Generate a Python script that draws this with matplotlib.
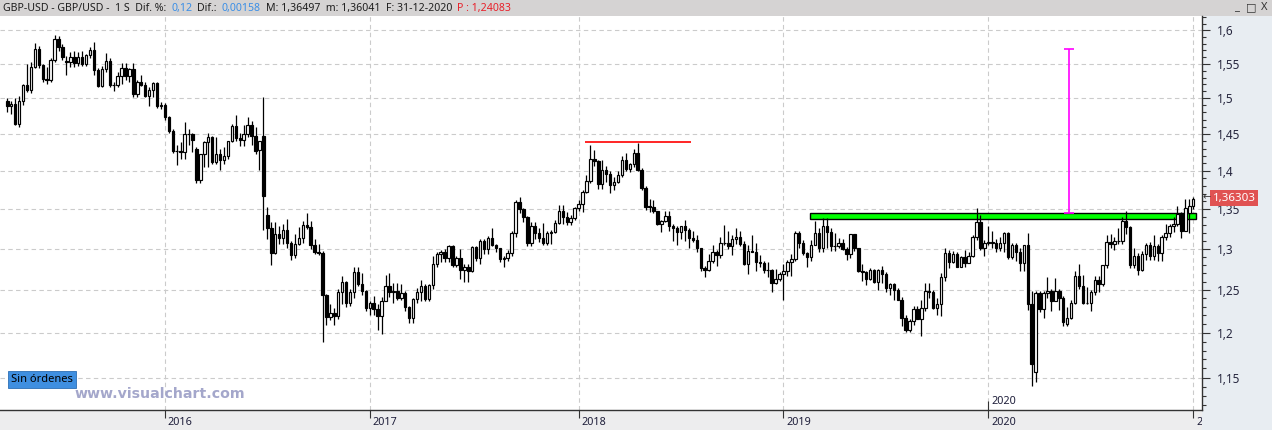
import numpy as np
import pandas as pd
import matplotlib
matplotlib.use('Agg')
import matplotlib.pyplot as plt
import matplotlib.transforms as mtransforms
from matplotlib.patches import Rectangle
from matplotlib.ticker import FixedLocator, NullFormatter, FuncFormatter

plt.rcParams['font.family'] = ['Noto Sans', 'DejaVu Sans']

# GBP/USD velas semanales (open, high, low, close)
first_week = '2015-03-23'

bars_2015 = [
    (1.4960, 1.5005, 1.4810, 1.4885), (1.4885, 1.4960, 1.4780, 1.4920), (1.4920, 1.5000, 1.4620, 1.4640),
    (1.4640, 1.5030, 1.4590, 1.4965), (1.4965, 1.5200, 1.4900, 1.5185), (1.5185, 1.5500, 1.5090, 1.5125),
    (1.5125, 1.5525, 1.5080, 1.5450), (1.5450, 1.5815, 1.5440, 1.5715), (1.5715, 1.5770, 1.5445, 1.5480),
    (1.5480, 1.5500, 1.5240, 1.5285), (1.5285, 1.5450, 1.5200, 1.5270), (1.5270, 1.5585, 1.5240, 1.5560),
    (1.5560, 1.5930, 1.5530, 1.5875), (1.5875, 1.5915, 1.5690, 1.5750), (1.5750, 1.5790, 1.5560, 1.5600),
    (1.5545, 1.5620, 1.5330, 1.5525), (1.5525, 1.5675, 1.5460, 1.5600), (1.5600, 1.5690, 1.5455, 1.5520),
    (1.5520, 1.5670, 1.5475, 1.5605), (1.5605, 1.5690, 1.5470, 1.5495), (1.5495, 1.5650, 1.5465, 1.5635),
    (1.5635, 1.5750, 1.5580, 1.5700), (1.5700, 1.5820, 1.5330, 1.5410), (1.5410, 1.5440, 1.5165, 1.5175),
    (1.5175, 1.5465, 1.5160, 1.5430), (1.5430, 1.5660, 1.5380, 1.5540), (1.5540, 1.5580, 1.5165, 1.5190),
    (1.5190, 1.5240, 1.5105, 1.5185), (1.5185, 1.5385, 1.5160, 1.5320), (1.5320, 1.5510, 1.5200, 1.5440),
    (1.5440, 1.5510, 1.5270, 1.5315), (1.5315, 1.5440, 1.5240, 1.5430), (1.5430, 1.5510, 1.5025, 1.5060),
    (1.5060, 1.5270, 1.5020, 1.5230), (1.5230, 1.5335, 1.5170, 1.5190), (1.5190, 1.5240, 1.5025, 1.5040),
    (1.5040, 1.5160, 1.4895, 1.5120), (1.5120, 1.5240, 1.5025, 1.5215), (1.5215, 1.5240, 1.4865, 1.4890),
    (1.4890, 1.4950, 1.4850, 1.4905), (1.4905, 1.4935, 1.4700, 1.4740),
]

bars_2016 = [
    (1.4740, 1.4750, 1.4515, 1.4535), (1.4535, 1.4575, 1.4235, 1.4265), (1.4265, 1.4350, 1.4080, 1.4260),
    (1.4260, 1.4395, 1.4160, 1.4250), (1.4250, 1.4665, 1.4160, 1.4500), (1.4500, 1.4570, 1.4350, 1.4505),
    (1.4505, 1.4510, 1.4255, 1.4410), (1.4300, 1.4320, 1.3835, 1.3875), (1.3875, 1.4230, 1.3840, 1.4225),
    (1.4225, 1.4400, 1.4055, 1.4390), (1.4390, 1.4515, 1.4050, 1.4460), (1.4460, 1.4470, 1.4085, 1.4120),
    (1.4120, 1.4460, 1.4090, 1.4230), (1.4230, 1.4295, 1.4005, 1.4140), (1.4140, 1.4315, 1.4085, 1.4200),
    (1.4200, 1.4400, 1.4160, 1.4400), (1.4400, 1.4640, 1.4390, 1.4615), (1.4615, 1.4770, 1.4405, 1.4440),
    (1.4440, 1.4515, 1.4330, 1.4410), (1.4410, 1.4630, 1.4330, 1.4495), (1.4495, 1.4735, 1.4455, 1.4630),
    (1.4630, 1.4675, 1.4350, 1.4465), (1.4465, 1.4600, 1.4220, 1.4265), (1.4280, 1.4375, 1.4010, 1.4400),
    (1.4465, 1.5020, 1.3230, 1.3675), (1.3420, 1.3530, 1.3120, 1.3265), (1.3265, 1.3340, 1.2795, 1.2950),
    (1.2950, 1.3340, 1.2935, 1.3180), (1.3180, 1.3285, 1.3060, 1.3130), (1.3130, 1.3310, 1.3060, 1.3230),
    (1.3230, 1.3370, 1.3010, 1.3070), (1.3070, 1.3090, 1.2865, 1.2925), (1.2925, 1.3185, 1.2880, 1.3060),
    (1.3060, 1.3275, 1.3045, 1.3130), (1.3130, 1.3345, 1.3070, 1.3300), (1.3300, 1.3445, 1.3240, 1.3270),
    (1.3270, 1.3350, 1.3000, 1.3040), (1.3040, 1.3120, 1.2940, 1.2960), (1.2960, 1.3055, 1.2925, 1.2950),
    (1.2950, 1.2970, 1.1900, 1.2440), (1.2440, 1.2450, 1.2085, 1.2185), (1.2185, 1.2335, 1.2145, 1.2230),
    (1.2230, 1.2290, 1.2085, 1.2195), (1.2195, 1.2510, 1.2160, 1.2480), (1.2480, 1.2670, 1.2335, 1.2595),
    (1.2595, 1.2605, 1.2300, 1.2340), (1.2340, 1.2510, 1.2305, 1.2475), (1.2475, 1.2775, 1.2410, 1.2720),
    (1.2720, 1.2775, 1.2545, 1.2575), (1.2575, 1.2705, 1.2435, 1.2490), (1.2490, 1.2500, 1.2250, 1.2290),
    (1.2290, 1.2375, 1.2200, 1.2340),
]

bars_2017 = [
    (1.2340, 1.2430, 1.2200, 1.2280), (1.2280, 1.2330, 1.2035, 1.2195), (1.2195, 1.2415, 1.1985, 1.2370),
    (1.2370, 1.2675, 1.2370, 1.2545), (1.2545, 1.2705, 1.2415, 1.2480), (1.2480, 1.2580, 1.2345, 1.2490),
    (1.2490, 1.2580, 1.2385, 1.2410), (1.2410, 1.2570, 1.2380, 1.2465), (1.2465, 1.2490, 1.2250, 1.2295),
    (1.2295, 1.2310, 1.2110, 1.2170), (1.2170, 1.2400, 1.2110, 1.2395), (1.2395, 1.2525, 1.2345, 1.2470),
    (1.2470, 1.2615, 1.2375, 1.2550), (1.2550, 1.2565, 1.2365, 1.2395), (1.2395, 1.2565, 1.2365, 1.2555),
    (1.2555, 1.2905, 1.2515, 1.2810), (1.2810, 1.2965, 1.2770, 1.2940), (1.2940, 1.2990, 1.2840, 1.2965),
    (1.2965, 1.3000, 1.2840, 1.2880), (1.2880, 1.3045, 1.2840, 1.3030), (1.3030, 1.3045, 1.2770, 1.2800),
    (1.2800, 1.2905, 1.2770, 1.2885), (1.2885, 1.3000, 1.2635, 1.2745), (1.2745, 1.2815, 1.2590, 1.2780),
    (1.2780, 1.2815, 1.2590, 1.2725), (1.2725, 1.3030, 1.2710, 1.3025), (1.3025, 1.3030, 1.2850, 1.2885),
    (1.2885, 1.3115, 1.2810, 1.3100), (1.3100, 1.3125, 1.2930, 1.2995), (1.2995, 1.3155, 1.2935, 1.3135),
    (1.3135, 1.3265, 1.3030, 1.3040), (1.3040, 1.3060, 1.2955, 1.3010), (1.3010, 1.3010, 1.2840, 1.2875),
    (1.2875, 1.2915, 1.2775, 1.2880), (1.2880, 1.2980, 1.2850, 1.2950), (1.2950, 1.3225, 1.2915, 1.3200),
    (1.3200, 1.3615, 1.3140, 1.3590), (1.3590, 1.3655, 1.3455, 1.3500), (1.3500, 1.3510, 1.3340, 1.3400),
    (1.3400, 1.3405, 1.3030, 1.3070), (1.3070, 1.3340, 1.3030, 1.3285), (1.3285, 1.3340, 1.3120, 1.3200),
    (1.3200, 1.3260, 1.3080, 1.3130), (1.3130, 1.3320, 1.3040, 1.3065), (1.3065, 1.3225, 1.3040, 1.3190),
    (1.3190, 1.3235, 1.3060, 1.3210), (1.3210, 1.3365, 1.3195, 1.3325), (1.3325, 1.3550, 1.3305, 1.3475),
    (1.3475, 1.3550, 1.3305, 1.3395), (1.3395, 1.3460, 1.3300, 1.3335), (1.3335, 1.3430, 1.3300, 1.3385),
    (1.3385, 1.3525, 1.3365, 1.3510),
]

bars_2018 = [
    (1.3510, 1.3615, 1.3480, 1.3565), (1.3565, 1.3745, 1.3460, 1.3725), (1.3725, 1.3945, 1.3710, 1.3860),
    (1.3860, 1.4345, 1.3840, 1.4160), (1.4160, 1.4285, 1.4070, 1.4135), (1.4135, 1.4145, 1.3765, 1.3830),
    (1.3830, 1.4145, 1.3765, 1.4015), (1.4015, 1.4070, 1.3855, 1.3960), (1.3960, 1.3995, 1.3710, 1.3810),
    (1.3810, 1.3920, 1.3750, 1.3850), (1.3850, 1.4000, 1.3840, 1.3945), (1.3945, 1.4200, 1.3915, 1.4140),
    (1.4140, 1.4245, 1.4000, 1.4020), (1.4020, 1.4110, 1.3990, 1.4085), (1.4085, 1.4295, 1.4055, 1.4235),
    (1.4235, 1.4377, 1.4000, 1.4010), (1.4010, 1.4040, 1.3750, 1.3775), (1.3775, 1.3800, 1.3485, 1.3530),
    (1.3540, 1.3625, 1.3460, 1.3530), (1.3530, 1.3615, 1.3450, 1.3470), (1.3470, 1.3470, 1.3300, 1.3310),
    (1.3310, 1.3365, 1.3205, 1.3345), (1.3345, 1.3470, 1.3340, 1.3410), (1.3410, 1.3475, 1.3215, 1.3280),
    (1.3280, 1.3315, 1.3100, 1.3265), (1.3265, 1.3290, 1.3050, 1.3205), (1.3205, 1.3290, 1.3125, 1.3280),
    (1.3280, 1.3365, 1.3100, 1.3230), (1.3230, 1.3255, 1.3010, 1.3135), (1.3135, 1.3215, 1.3080, 1.3110),
    (1.3110, 1.3170, 1.2955, 1.3005), (1.3005, 1.3005, 1.2725, 1.2765), (1.2765, 1.2790, 1.2660, 1.2745),
    (1.2745, 1.2930, 1.2730, 1.2845), (1.2845, 1.3045, 1.2830, 1.2960), (1.2960, 1.2985, 1.2785, 1.2925),
    (1.2925, 1.3145, 1.2885, 1.3070), (1.3070, 1.3300, 1.3040, 1.3065), (1.3065, 1.3215, 1.2995, 1.3030),
    (1.3030, 1.3175, 1.2920, 1.3115), (1.3115, 1.3260, 1.3060, 1.3150), (1.3150, 1.3215, 1.3030, 1.3055),
    (1.3055, 1.3095, 1.2805, 1.2815), (1.2815, 1.3040, 1.2695, 1.2970), (1.2970, 1.3175, 1.2960, 1.2965),
    (1.2965, 1.3075, 1.2725, 1.2835), (1.2835, 1.2925, 1.2770, 1.2820), (1.2820, 1.2845, 1.2700, 1.2745),
    (1.2745, 1.2840, 1.2660, 1.2740), (1.2740, 1.2750, 1.2475, 1.2580), (1.2580, 1.2750, 1.2575, 1.2630),
    (1.2630, 1.2715, 1.2605, 1.2695), (1.2695, 1.2815, 1.2380, 1.2730),
]

bars_2019 = [
    (1.2730, 1.2865, 1.2670, 1.2835), (1.2835, 1.2930, 1.2670, 1.2875), (1.2875, 1.3215, 1.2855, 1.3195),
    (1.3195, 1.3215, 1.3005, 1.3075), (1.3075, 1.3105, 1.2920, 1.2945), (1.2945, 1.2965, 1.2775, 1.2895),
    (1.2895, 1.3110, 1.2855, 1.3050), (1.3050, 1.3350, 1.3040, 1.3195), (1.3195, 1.3255, 1.2960, 1.3010),
    (1.3010, 1.3380, 1.2960, 1.3290), (1.3290, 1.3380, 1.3005, 1.3210), (1.3210, 1.3260, 1.2975, 1.3035),
    (1.3035, 1.3195, 1.2975, 1.3030), (1.3030, 1.3135, 1.3010, 1.3075), (1.3075, 1.3125, 1.2985, 1.3000),
    (1.3000, 1.3025, 1.2865, 1.2930), (1.2930, 1.3185, 1.2890, 1.3180), (1.3180, 1.3185, 1.2970, 1.3005),
    (1.3005, 1.3005, 1.2720, 1.2730), (1.2730, 1.2810, 1.2605, 1.2715), (1.2715, 1.2730, 1.2560, 1.2625),
    (1.2625, 1.2765, 1.2620, 1.2735), (1.2735, 1.2750, 1.2580, 1.2600), (1.2600, 1.2750, 1.2505, 1.2735),
    (1.2735, 1.2785, 1.2580, 1.2690), (1.2690, 1.2710, 1.2480, 1.2525), (1.2525, 1.2580, 1.2440, 1.2575),
    (1.2575, 1.2585, 1.2380, 1.2500), (1.2500, 1.2520, 1.2380, 1.2385), (1.2385, 1.2420, 1.2080, 1.2165),
    (1.2165, 1.2210, 1.2015, 1.2030), (1.2030, 1.2155, 1.2015, 1.2140), (1.2140, 1.2310, 1.2090, 1.2280),
    (1.2280, 1.2310, 1.2155, 1.2160), (1.2160, 1.2385, 1.1960, 1.2290), (1.2290, 1.2580, 1.2250, 1.2490),
    (1.2490, 1.2580, 1.2400, 1.2470), (1.2470, 1.2500, 1.2270, 1.2290), (1.2290, 1.2410, 1.2205, 1.2330),
    (1.2330, 1.2705, 1.2195, 1.2660), (1.2660, 1.3015, 1.2610, 1.2945), (1.2945, 1.2985, 1.2765, 1.2840),
    (1.2840, 1.2975, 1.2820, 1.2940), (1.2940, 1.2960, 1.2770, 1.2775), (1.2775, 1.2915, 1.2770, 1.2900),
    (1.2900, 1.2990, 1.2770, 1.2830), (1.2830, 1.2955, 1.2825, 1.2915), (1.2915, 1.3170, 1.2900, 1.3150),
    (1.3150, 1.3515, 1.3110, 1.3330), (1.3330, 1.3430, 1.2980, 1.3010), (1.3010, 1.3110, 1.2905, 1.3075),
    (1.3075, 1.3285, 1.3045, 1.3080),
]

bars_2020 = [
    (1.3080, 1.3215, 1.3010, 1.3065), (1.3065, 1.3120, 1.2955, 1.3015), (1.3015, 1.3150, 1.2975, 1.3075),
    (1.3075, 1.3210, 1.2955, 1.3200), (1.3200, 1.3210, 1.2870, 1.2895), (1.2895, 1.3070, 1.2875, 1.3045),
    (1.3045, 1.3070, 1.2850, 1.2960), (1.2960, 1.3010, 1.2725, 1.2825), (1.2825, 1.3050, 1.2725, 1.3045),
    (1.3045, 1.3200, 1.2260, 1.2335), (1.2335, 1.2485, 1.1410, 1.1650), (1.1560, 1.2485, 1.1450, 1.2460),
    (1.2460, 1.2485, 1.2240, 1.2270), (1.2270, 1.2485, 1.2165, 1.2460), (1.2460, 1.2650, 1.2405, 1.2485),
    (1.2485, 1.2515, 1.2250, 1.2365), (1.2365, 1.2645, 1.2365, 1.2490), (1.2490, 1.2515, 1.2265, 1.2405),
    (1.2405, 1.2425, 1.2075, 1.2125), (1.2100, 1.2295, 1.2075, 1.2170), (1.2170, 1.2385, 1.2160, 1.2345),
    (1.2345, 1.2730, 1.2330, 1.2665), (1.2665, 1.2810, 1.2510, 1.2545), (1.2545, 1.2685, 1.2335, 1.2350),
    (1.2350, 1.2540, 1.2330, 1.2340), (1.2340, 1.2505, 1.2250, 1.2480), (1.2480, 1.2670, 1.2440, 1.2620),
    (1.2620, 1.2670, 1.2480, 1.2570), (1.2570, 1.2800, 1.2545, 1.2795), (1.2795, 1.3170, 1.2765, 1.3085),
    (1.3085, 1.3185, 1.3005, 1.3055), (1.3055, 1.3145, 1.2990, 1.3090), (1.3090, 1.3265, 1.3060, 1.3095),
    (1.3095, 1.3395, 1.3060, 1.3350), (1.3350, 1.3480, 1.3180, 1.3275), (1.3275, 1.3285, 1.2760, 1.2795),
    (1.2795, 1.3005, 1.2765, 1.2915), (1.2915, 1.2950, 1.2675, 1.2745), (1.2745, 1.2975, 1.2725, 1.2940),
    (1.2940, 1.3065, 1.2865, 1.3045), (1.3045, 1.3080, 1.2865, 1.2915), (1.2915, 1.3175, 1.2865, 1.3035),
    (1.3035, 1.3060, 1.2855, 1.2945), (1.2945, 1.3175, 1.2855, 1.3150), (1.3150, 1.3310, 1.3110, 1.3195),
    (1.3195, 1.3310, 1.3140, 1.3285), (1.3285, 1.3400, 1.3205, 1.3315), (1.3315, 1.3540, 1.3290, 1.3440),
    (1.3440, 1.3465, 1.3135, 1.3225), (1.3225, 1.3625, 1.3220, 1.3515), (1.3450, 1.3625, 1.3190, 1.3545),
    (1.3545, 1.3650, 1.3495, 1.3630),
]

# Dibujos del usuario
resist_level = 1.4385          # linea roja en los maximos de 2018
resist_from, resist_to = 146.6, 173.5
zone_low, zone_high = 1.3368, 1.3455   # zona verde
zone_from, zone_to = 203.7, 301.7
target_price = 1.5716          # medicion magenta
target_at = 269.5
last_price = 1.36303

y_ticks = [1.15, 1.20, 1.25, 1.30, 1.35, 1.40, 1.45, 1.50, 1.55, 1.60]

title_parts = [('GBP-USD - GBP/USD -  1 S  Dif. %:', '#1E1E1E'), ('0,12', '#3A8EE6'),
               ('Dif.:', '#1E1E1E'), ('0,00158', '#3A8EE6'),
               ('M: 1,36497  m: 1,36041  F: 31-12-2020', '#1E1E1E'), ('P : 1,24083', '#E8202A')]

bars = np.array(bars_2015 + bars_2016 + bars_2017 + bars_2018 + bars_2019 + bars_2020)
o, h, l, c = bars.T
n = len(bars)
x = np.arange(n)
dates = pd.date_range(first_week, periods=n, freq='W-MON')
week_end = dates + pd.Timedelta(days=6)
year_idx = [i for i in range(1, n) if week_end[i].year != week_end[i - 1].year]
year_lbl = [str(week_end[i].year) for i in year_idx]

W, H = 1272, 430
fig = plt.figure(figsize=(W / 100, H / 100), dpi=100)
fig.patch.set_facecolor('#E8EDF2')
rend = fig.canvas.get_renderer()


def px_axes(x0, y0, x1, y1):
    return fig.add_axes([x0 / W, 1 - y1 / H, (x1 - x0) / W, (y1 - y0) / H])


def px_rect(x0, y0, x1, y1, color):
    fig.patches.append(Rectangle((x0 / W, 1 - y1 / H), (x1 - x0) / W, (y1 - y0) / H,
                                 transform=fig.transFigure, facecolor=color, edgecolor='none', zorder=-5))


# barra de titulo
px_rect(0, 0, W, 16, '#D5D3D3')
px_rect(0, 410, 1202, H, '#EDEDEE')
xpos = 3
for txt, col in title_parts:
    t = fig.text(xpos / W, 1 - 8.5 / H, txt, color=col, fontsize=7.6, va='center', ha='left')
    xpos = t.get_window_extent(rend).x1 + 5
for px, txt in [(1236, '_'), (1251, '\u25a1'), (1264, 'X')]:
    fig.text(px / W, 1 - 8 / H, txt, color='#333333', fontsize=8, va='center', ha='center')

# grafico principal
ax = px_axes(0, 16, 1202, 410)
ax.set_facecolor('white')
ax.set_yscale('log')
ax.set_xlim(-7.3 / 3.94, (1202 - 7.3) / 3.94)
ax.set_ylim(1.11507, 1.62221)

for v in y_ticks:
    ax.axhline(v, color='#CBCBCB', lw=0.8, ls=(0, (4, 3)), zorder=0)
for i in year_idx:
    ax.axvline(i, color='#CBCBCB', lw=0.8, ls=(0, (4, 3)), zorder=0)

ax.add_patch(Rectangle((zone_from, zone_low), zone_to - zone_from, zone_high - zone_low,
                       facecolor='#00FF00', edgecolor='black', lw=1.0, zorder=1))
ax.hlines(resist_level, resist_from, resist_to, color='red', lw=1.2, zorder=4)

up = c >= o
ax.vlines(x, l, h, color='black', lw=0.9, zorder=2)
ax.bar(x, np.abs(c - o), bottom=np.minimum(o, c), width=0.62,
       color=np.where(up, 'white', 'black'), edgecolor='black', lw=0.85, zorder=3)

ax.vlines(target_at, zone_high, target_price, color='#FF00FF', lw=1.2, zorder=5)
ax.hlines([target_price, zone_high], target_at - 1.2, target_at + 1.2, color='#FF00FF', lw=1.2, zorder=5)

for side in ['top', 'left']:
    ax.spines[side].set_visible(False)
for side in ['right', 'bottom']:
    ax.spines[side].set_color('#333333')
    ax.spines[side].set_linewidth(1.0)

ax.yaxis.set_major_locator(FixedLocator(y_ticks))
ax.yaxis.set_minor_locator(FixedLocator([v / 100 for v in range(112, 163) if v % 5]))
ax.yaxis.set_major_formatter(FuncFormatter(lambda v, p: ('%.2f' % v).rstrip('0').replace('.', ',')))
ax.yaxis.set_minor_formatter(NullFormatter())
ax.tick_params(axis='y', which='both', left=False, right=True, labelleft=False, labelright=True,
               colors='#333333', labelcolor='#26263E', labelsize=8.5, width=0.8)
ax.tick_params(axis='y', which='major', length=6, pad=5)
ax.tick_params(axis='y', which='minor', length=3)

ax.set_xticks(year_idx)
ax.set_xticklabels([])
ax.tick_params(axis='x', length=6, width=0.8, colors='#333333')

# etiquetas de los anos, recortadas por el panel derecho
lbl_tr = mtransforms.offset_copy(ax.get_xaxis_transform(), fig=fig, x=3, y=-7, units='dots')
clip = mtransforms.Bbox.from_extents(0, 0, 1202, H)
for i, s in zip(year_idx, year_lbl):
    t = fig.text(i, 0, s, transform=lbl_tr, ha='left', va='top', fontsize=7.8, color='#1E1E3A')
    t.set_clip_box(clip)
    t.set_clip_on(True)

# etiqueta "2020" dentro del grafico
ax.vlines(year_idx[-2], 0, 9 / 394, transform=ax.get_xaxis_transform(), color='#333333', lw=0.8)
in_tr = mtransforms.offset_copy(ax.get_xaxis_transform(), fig=fig, x=3, y=3, units='dots')
ax.text(year_idx[-2], 0, year_lbl[-2], transform=in_tr, ha='left', va='bottom', fontsize=7.8, color='#1E1E3A')

# precio actual
fig.text(1234 / W, 1 - 198 / H, ('%.5f' % last_price).replace('.', ','), color='white', fontsize=8.3,
         ha='center', va='center',
         bbox=dict(boxstyle='square,pad=0.25', facecolor='#E05252', edgecolor='none'))
fig.text(1207 / W, 1 - 198 / H, '\u2190', color='#333333', fontsize=7, ha='center', va='center')

fig.text(11 / W, 1 - 379.5 / H, 'Sin órdenes', color='black', fontsize=8, ha='left', va='center',
         bbox=dict(boxstyle='square,pad=0.3', facecolor='#3F8FE0', edgecolor='#2D6FB5', lw=0.6))
fig.text(160 / W, 1 - 394.5 / H, 'www.visualchart.com', color='#A4A7CB', fontsize=10.2,
         fontweight='bold', family='DejaVu Sans', ha='center', va='center')

fig.savefig('out.png', dpi=100, facecolor=fig.get_facecolor())
